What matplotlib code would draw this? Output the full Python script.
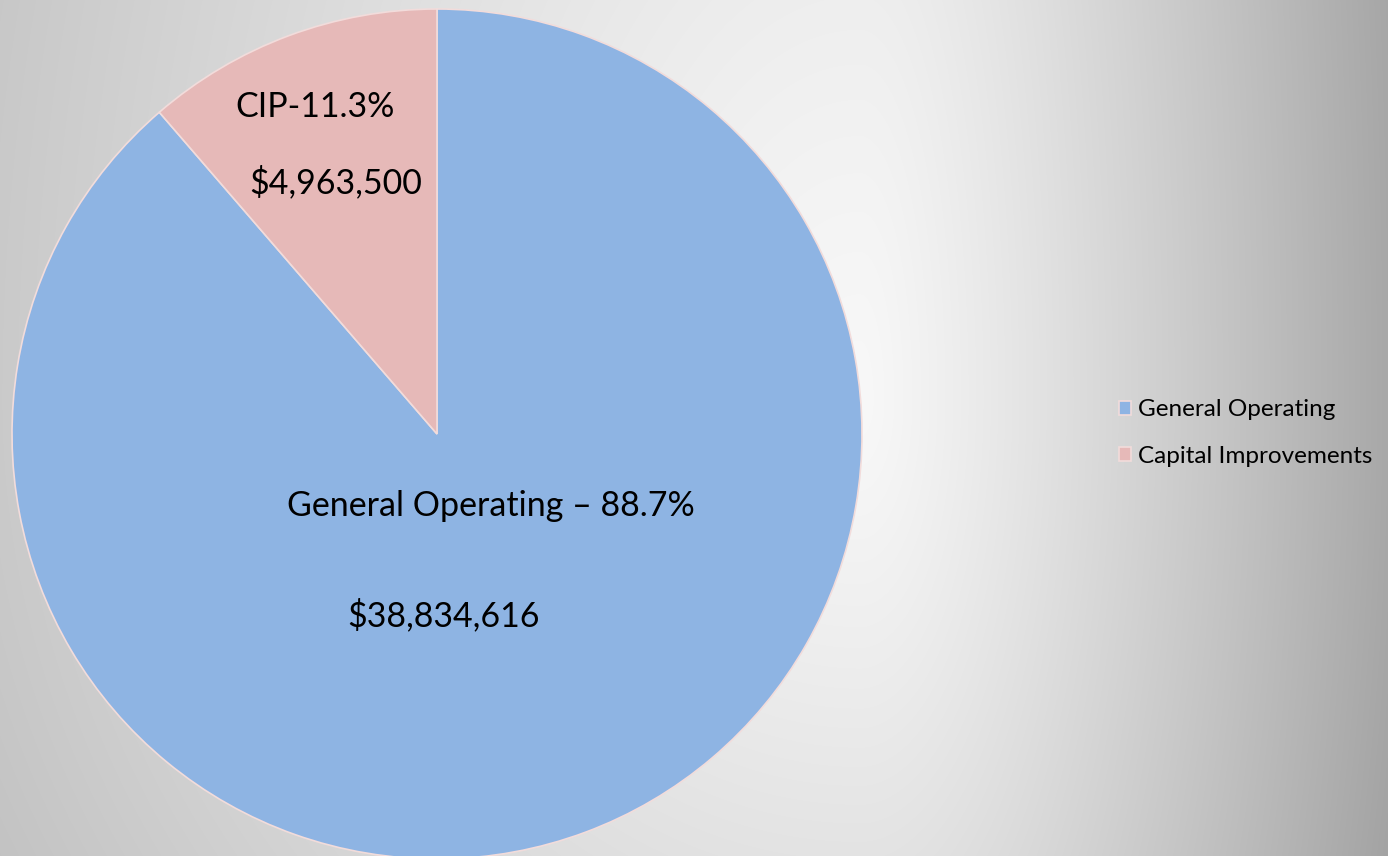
import numpy as np
import matplotlib
matplotlib.use("Agg")
import matplotlib.pyplot as plt

categories = ["General Operating", "Capital Improvements"]
short_names = ["General Operating", "CIP"]
values = [38834616, 4963500]
colors = ["#8EB4E3", "#E6B9B8"]

W, H = 1388, 856
fig = plt.figure(figsize=(W / 100, H / 100), dpi=100)
ax = fig.add_axes([0, 0, 1, 1])

# background gradient
X, Y = np.meshgrid(np.arange(W) + 0.5, np.arange(H) + 0.5)
cx, cy = 860, 400
dx = X - cx
fx = np.where(dx < 0, -dx / 850 * 50, dx / 528 * 80)
dy = Y - cy
fy = np.where(dy < 0, -dy / 400 * 14, dy / 456 * 26)
D = np.sqrt(fx ** 2 + fy ** 2)
drop = 80 * (D / 80) ** 1.2
B = np.clip(248 - drop, 0, 255) / 255.0
img = np.dstack([B, B, B])
ax.imshow(img, extent=(0, W, 0, H), origin="upper", zorder=0, aspect="auto")

font = "Lato"
wedges, _ = ax.pie(values, colors=colors, startangle=90, counterclock=False,
                   center=(437, H - 434), radius=425, frame=True,
                   wedgeprops=dict(edgecolor="#F2DCDB", linewidth=1.2))
ax.set_xlim(0, W)
ax.set_ylim(0, H)
ax.set_aspect("auto")
ax.axis("off")
for w in wedges:
    w.set_zorder(2)

total = sum(values)
pcts = [v / total * 100 for v in values]

fs = 24.5
ax.text(491, H - 506, f"{short_names[0]} \u2013 {pcts[0]:.1f}%", ha="center", va="center",
        fontsize=fs, family=font, color="black", zorder=3)
ax.text(444, H - 615, f"${values[0]:,}", ha="center", va="center",
        fontsize=fs, family=font, color="black", zorder=3)
ax.text(315, H - 107, f"{short_names[1]}-{pcts[1]:.1f}%", ha="center", va="center",
        fontsize=fs, family=font, color="black", zorder=3)
ax.text(336, H - 182, f"${values[1]:,}", ha="center", va="center",
        fontsize=fs, family=font, color="black", zorder=3)

leg = fig.legend(wedges, categories, loc="center left",
                 bbox_to_anchor=(1097 / W, 1 - 433 / H), frameon=False,
                 prop=dict(family=font, size=17.5), handlelength=0.5, handleheight=0.5,
                 handletextpad=0.3, labelspacing=1.05)

fig.savefig("out.png", dpi=100)
